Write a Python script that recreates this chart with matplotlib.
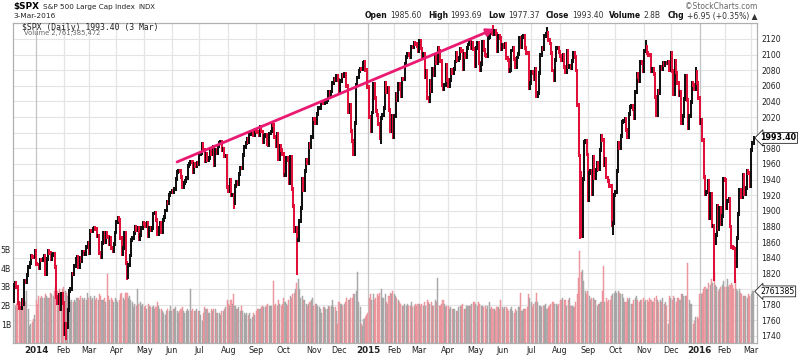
import numpy as np
import pandas as pd
import matplotlib
matplotlib.use("Agg")
import matplotlib.pyplot as plt
from matplotlib.transforms import blended_transform_factory

# S&P 500 daily closes, Dec 6 2013 .. Mar 3 2016 (one line per month)
close_before = 1785.03
closes_2013 = [1805.09, 1808.37, 1802.62, 1782.22, 1775.50, 1775.32, 1786.54, 1781.00, 1810.65,
               1809.60, 1818.32, 1827.99, 1833.32, 1842.02, 1841.40, 1841.07, 1848.36]
closes_2014 = [
    1831.98, 1831.37, 1826.77, 1837.88, 1837.49, 1838.13, 1842.37, 1819.20, 1838.88, 1848.38, 1845.89, 1838.70, 1843.80, 1844.86, 1828.46, 1790.29, 1781.56, 1792.50, 1774.20, 1794.19, 1782.59,
    1741.89, 1755.20, 1751.64, 1773.43, 1797.02, 1799.84, 1819.75, 1819.26, 1829.83, 1838.63, 1840.76, 1828.75, 1839.78, 1836.25, 1847.61, 1845.12, 1845.16, 1854.29, 1859.45,
    1845.73, 1873.91, 1873.81, 1877.03, 1878.04, 1877.17, 1867.63, 1868.20, 1846.34, 1841.13, 1858.83, 1872.25, 1860.77, 1872.01, 1866.52, 1857.44, 1865.62, 1852.56, 1849.04, 1857.62, 1872.34,
    1885.52, 1890.90, 1888.77, 1865.09, 1845.04, 1851.96, 1872.18, 1833.08, 1815.69, 1830.61, 1842.98, 1862.31, 1864.85, 1871.89, 1879.55, 1875.39, 1878.61, 1863.40, 1869.43, 1878.33, 1883.95,
    1883.68, 1881.14, 1884.66, 1867.72, 1878.21, 1875.63, 1878.48, 1896.65, 1897.45, 1888.53, 1870.85, 1877.86, 1885.08, 1872.83, 1888.03, 1892.49, 1900.53, 1911.91, 1909.78, 1920.03, 1923.57,
    1924.97, 1924.24, 1927.88, 1940.46, 1949.44, 1951.27, 1950.79, 1943.89, 1930.11, 1936.16, 1937.78, 1941.99, 1956.98, 1959.48, 1962.87, 1962.61, 1949.98, 1959.53, 1957.22, 1960.96, 1960.23,
    1973.32, 1974.62, 1985.44, 1977.65, 1963.71, 1972.83, 1964.68, 1967.57, 1977.10, 1973.28, 1981.57, 1958.12, 1978.22, 1973.63, 1983.53, 1987.01, 1987.98, 1978.34, 1978.91, 1969.95, 1970.07, 1930.67,
    1925.15, 1938.99, 1920.21, 1920.24, 1909.57, 1931.59, 1936.92, 1933.75, 1946.72, 1955.18, 1955.06, 1971.74, 1981.60, 1986.51, 1992.37, 1988.40, 1997.92, 2000.02, 2000.12, 1996.74, 2003.37,
    2002.28, 2000.72, 1997.65, 2007.71, 2001.54, 1988.44, 1995.69, 1997.45, 1985.54, 1984.13, 1998.98, 2001.57, 2011.36, 2010.40, 1994.29, 1982.77, 1998.30, 1965.99, 1982.85, 1977.80, 1972.29,
    1946.16, 1946.17, 1967.90, 1964.82, 1935.10, 1968.89, 1928.21, 1906.13, 1874.74, 1877.70, 1862.49, 1862.76, 1886.76, 1904.01, 1941.28, 1927.11, 1950.82, 1964.58, 1961.63, 1985.05, 1982.30, 1994.65, 2018.05,
    2017.81, 2012.10, 2023.57, 2031.21, 2031.92, 2038.26, 2039.68, 2038.25, 2039.33, 2039.82, 2041.32, 2051.80, 2048.72, 2052.75, 2063.50, 2069.41, 2067.03, 2072.83, 2067.56,
    2053.44, 2066.55, 2074.33, 2071.92, 2075.37, 2060.31, 2059.82, 2026.14, 2035.33, 2002.33, 1989.63, 1972.74, 2012.89, 2061.23, 2070.65, 2078.54, 2082.17, 2081.88, 2088.77, 2090.57, 2080.35, 2058.90]
closes_2015 = [
    2058.20, 2020.58, 2002.61, 2025.90, 2062.14, 2044.81, 2028.26, 2023.03, 2011.27, 1992.67, 2019.42, 2022.55, 2032.12, 2063.15, 2051.82, 2057.09, 2029.55, 2002.16, 2021.25, 1994.99,
    2020.85, 2050.03, 2041.51, 2062.52, 2055.47, 2046.74, 2068.59, 2068.53, 2088.48, 2096.99, 2100.34, 2099.68, 2097.45, 2110.30, 2109.66, 2115.48, 2113.86, 2110.74, 2104.50,
    2117.39, 2107.78, 2098.53, 2101.04, 2071.26, 2079.43, 2044.16, 2040.24, 2065.95, 2053.40, 2081.19, 2074.28, 2099.50, 2089.27, 2108.10, 2104.42, 2091.50, 2061.05, 2056.15, 2061.02, 2086.24, 2067.89,
    2059.69, 2066.96, 2080.62, 2076.33, 2081.90, 2091.18, 2102.06, 2092.43, 2095.84, 2106.63, 2104.99, 2081.18, 2100.40, 2097.29, 2107.96, 2112.93, 2117.69, 2108.92, 2114.76, 2106.85, 2085.51,
    2108.29, 2114.49, 2089.46, 2080.15, 2088.00, 2116.10, 2105.33, 2099.12, 2098.48, 2121.10, 2122.73, 2129.20, 2127.83, 2125.85, 2130.82, 2126.06, 2104.20, 2123.48, 2120.79, 2107.39,
    2111.73, 2109.60, 2114.07, 2095.84, 2092.83, 2079.28, 2080.15, 2105.20, 2108.86, 2094.11, 2084.43, 2096.29, 2100.44, 2121.24, 2109.99, 2122.85, 2124.20, 2108.58, 2102.31, 2101.49, 2057.64, 2063.11,
    2077.42, 2076.78, 2068.76, 2081.34, 2046.68, 2051.31, 2076.62, 2099.60, 2108.95, 2107.40, 2124.29, 2126.64, 2128.28, 2119.21, 2114.15, 2102.15, 2079.65, 2067.64, 2093.25, 2108.57, 2108.63, 2103.84,
    2098.04, 2093.32, 2099.84, 2083.56, 2077.57, 2104.18, 2084.07, 2086.05, 2083.39, 2091.54, 2102.44, 2096.92, 2079.61, 2035.73, 1970.89, 1893.21, 1867.61, 1940.51, 1987.66, 1988.87, 1972.18,
    1913.85, 1948.86, 1951.13, 1921.22, 1969.41, 1942.04, 1952.29, 1961.05, 1953.03, 1978.09, 1995.31, 1990.20, 1958.03, 1966.97, 1942.74, 1938.76, 1932.24, 1931.34, 1881.77, 1884.09, 1920.03,
    1923.82, 1951.36, 1987.05, 1979.92, 1995.83, 2013.43, 2014.89, 2017.46, 2003.69, 1994.24, 2023.86, 2033.11, 2033.66, 2030.77, 2018.94, 2052.51, 2075.15, 2071.18, 2065.89, 2090.35, 2089.41, 2079.36,
    2104.05, 2109.79, 2102.31, 2099.93, 2099.20, 2078.58, 2081.72, 2075.00, 2045.97, 2023.04, 2053.19, 2050.44, 2083.58, 2081.24, 2089.17, 2086.59, 2089.14, 2088.87, 2090.11, 2080.41,
    2102.63, 2079.51, 2049.62, 2091.69, 2077.07, 2063.59, 2047.62, 2052.23, 2012.37, 2021.94, 2043.41, 2073.07, 2041.89, 2005.55, 2021.15, 2038.97, 2064.29, 2060.99, 2056.50, 2078.36, 2063.36, 2043.94]
closes_2016 = [
    2012.66, 2016.71, 1990.26, 1943.09, 1922.03, 1923.67, 1938.68, 1890.28, 1921.84, 1880.33, 1881.33, 1859.33, 1868.99, 1906.90, 1877.08, 1903.63, 1882.95, 1893.36, 1940.24,
    1939.38, 1903.03, 1912.53, 1915.45, 1880.05, 1853.44, 1852.21, 1851.86, 1829.08, 1864.78, 1895.58, 1926.82, 1917.83, 1917.78, 1945.50, 1921.27, 1929.80, 1951.70, 1948.05, 1932.23,
    1978.35, 1986.45, 1993.40]

# intraday extremes on the days with long wicks
low_dates = ["2014-02-05", "2014-04-11", "2014-08-07", "2014-10-15", "2014-12-16", "2015-01-16",
             "2015-08-24", "2015-09-29", "2016-01-20", "2016-02-11"]
low_values = [1737.92, 1814.36, 1904.78, 1820.66, 1972.56, 1988.12, 1867.01, 1871.91, 1812.29, 1810.10]
high_dates = ["2015-05-20", "2015-07-20", "2015-08-25", "2015-11-03", "2015-12-29"]
high_values = [2134.72, 2132.82, 1948.04, 2116.48, 2081.56]

# volume in billions
vol_2013 = [2.1, 2.0, 2.1, 2.2, 2.1, 2.2, 2.0, 2.1, 2.3, 2.2, 2.8, 1.8, 0.9, 1.0, 1.1, 1.3, 1.5]
vol_2014 = [
    2.3, 2.1, 2.5, 2.4, 2.5, 2.4, 2.4, 2.6, 2.5, 2.4, 2.4, 2.7, 2.6, 2.5, 2.8, 3.0, 2.8, 2.5, 2.9, 2.6, 2.9,
    3.0, 2.8, 2.7, 2.5, 2.4, 2.2, 2.3, 2.2, 2.3, 2.2, 2.4, 2.4, 2.3, 2.5, 2.4, 2.3, 2.4, 2.3, 2.7,
    2.4, 2.5, 2.3, 2.4, 2.5, 2.3, 2.4, 2.3, 2.6, 2.5, 2.3, 2.3, 2.4, 2.2, 3.7, 2.5, 2.3, 2.4, 2.3, 2.2, 2.4,
    2.3, 2.2, 2.3, 2.6, 2.7, 2.4, 2.3, 2.7, 2.7, 2.4, 2.5, 2.3, 2.2, 1.9, 2.1, 2.0, 2.9, 2.1, 2.2, 2.0, 2.1,
    1.9, 2.0, 1.8, 2.1, 2.0, 1.9, 1.9, 2.0, 1.8, 1.9, 2.2, 2.0, 1.8, 1.8, 1.7, 1.6, 1.5, 1.7, 1.8, 1.7, 2.0,
    1.7, 1.8, 1.8, 1.9, 1.7, 1.6, 1.7, 1.8, 1.9, 1.7, 1.6, 1.7, 1.8, 1.7, 2.9, 1.7, 1.8, 1.7, 1.7, 1.8, 1.7,
    1.7, 1.5, 1.2, 1.6, 1.9, 1.8, 1.8, 1.6, 1.6, 1.8, 1.7, 1.8, 1.8, 1.6, 1.6, 1.6, 1.5, 1.7, 1.7, 1.8, 1.9, 2.3,
    2.1, 2.0, 2.3, 2.1, 2.6, 2.0, 1.8, 1.8, 1.9, 1.7, 2.0, 1.7, 1.6, 1.5, 1.6, 1.5, 1.6, 1.3, 1.4, 1.6, 1.5,
    1.7, 1.8, 1.8, 1.8, 1.9, 2.0, 1.9, 1.9, 2.0, 2.1, 2.0, 2.0, 2.0, 3.3, 2.0, 2.1, 2.0, 2.3, 2.1, 2.0, 2.1,
    2.4, 2.2, 2.1, 2.0, 2.3, 2.5, 2.4, 2.6, 2.7, 2.9, 3.2, 3.4, 2.9, 2.4, 2.5, 2.3, 2.3, 2.1, 2.0, 2.1, 2.2, 2.3, 2.4,
    2.0, 2.1, 2.1, 2.0, 1.9, 1.8, 1.6, 1.9, 1.9, 1.8, 1.8, 2.0, 1.9, 2.0, 2.3, 1.9, 1.9, 1.7, 1.0,
    2.2, 2.1, 2.1, 2.0, 2.1, 2.2, 2.4, 2.3, 2.3, 2.4, 2.4, 2.6, 2.6, 2.8, 3.8, 2.2, 1.9, 1.0, 0.9, 1.3, 1.4, 1.5]
vol_2015 = [
    1.6, 2.4, 2.6, 2.3, 2.6, 2.3, 2.4, 2.6, 2.5, 2.7, 2.9, 2.4, 2.4, 2.6, 2.2, 2.1, 2.5, 2.7, 2.6, 2.8,
    2.6, 2.5, 2.4, 2.3, 2.2, 2.1, 2.0, 2.0, 2.1, 2.0, 2.1, 2.0, 2.0, 2.2, 1.9, 2.0, 2.1, 2.0, 2.1,
    2.1, 2.0, 2.1, 2.0, 2.2, 2.0, 2.3, 2.2, 2.1, 2.2, 2.0, 2.0, 2.3, 2.2, 3.5, 2.0, 2.0, 2.1, 2.3, 2.1, 1.9, 2.0,
    2.0, 1.8, 1.9, 1.8, 1.8, 1.8, 1.7, 1.7, 1.9, 2.0, 2.0, 2.1, 1.8, 1.8, 2.0, 2.0, 2.0, 2.0, 2.1, 2.2, 2.2,
    2.1, 2.0, 2.2, 2.1, 2.0, 2.0, 1.9, 2.0, 1.8, 2.0, 2.2, 1.8, 1.9, 1.8, 1.8, 1.7, 1.9, 1.9, 1.8, 2.3,
    1.9, 1.8, 1.9, 1.9, 1.8, 1.7, 1.8, 1.9, 1.7, 1.6, 1.8, 1.7, 1.9, 1.9, 2.7, 1.7, 1.8, 1.8, 1.8, 1.9, 2.6, 2.4,
    2.2, 1.9, 2.1, 2.2, 2.7, 2.2, 2.0, 2.0, 1.9, 2.0, 2.0, 2.1, 1.8, 1.9, 2.0, 2.1, 2.2, 2.2, 2.1, 2.1, 2.0, 2.1,
    2.3, 2.3, 2.4, 2.3, 2.3, 2.0, 2.3, 2.4, 2.0, 2.0, 1.9, 1.9, 2.2, 2.6, 3.5, 4.9, 3.8, 3.9, 3.3, 2.8, 2.6,
    2.8, 2.5, 2.3, 2.4, 2.4, 2.3, 2.3, 2.0, 2.1, 2.1, 2.2, 2.8, 4.1, 2.2, 2.4, 2.2, 2.3, 2.3, 2.5, 2.6, 2.7,
    2.8, 2.7, 2.8, 2.7, 2.6, 2.6, 2.4, 2.2, 2.2, 2.4, 2.3, 2.4, 2.1, 2.1, 2.3, 2.4, 2.5, 2.3, 2.2, 2.3, 2.3, 2.4,
    2.2, 2.3, 2.3, 2.2, 2.4, 2.3, 2.2, 2.2, 2.4, 2.5, 2.3, 2.2, 2.3, 2.2, 2.4, 2.1, 2.2, 2.0, 1.0, 2.5,
    2.4, 2.3, 2.5, 2.4, 2.2, 2.4, 2.4, 2.3, 2.6, 2.6, 2.5, 2.5, 2.5, 4.3, 2.3, 2.1, 2.1, 1.0, 1.2, 1.4, 1.4, 1.3]
vol_2016 = [
    2.6, 2.6, 2.7, 2.9, 3.0, 2.9, 2.9, 3.2, 3.1, 3.4, 3.2, 3.8, 3.1, 3.0, 2.8, 2.9, 3.0, 3.1, 3.3,
    3.0, 3.0, 3.4, 3.0, 3.1, 3.2, 3.1, 2.9, 3.4, 2.9, 2.8, 2.9, 2.7, 2.6, 2.5, 2.5, 2.5, 2.4, 2.6, 2.5,
    2.6, 2.8, 2.761385472]

holidays = ["2013-12-25", "2014-01-01", "2014-01-20", "2014-02-17", "2014-04-18", "2014-05-26",
            "2014-07-04", "2014-09-01", "2014-11-27", "2014-12-25", "2015-01-01", "2015-01-19",
            "2015-02-16", "2015-04-03", "2015-05-25", "2015-07-03", "2015-09-07", "2015-11-26",
            "2015-12-25", "2016-01-01", "2016-01-18", "2016-02-15"]

arrow_from = ("2014-06-06", 1962.6)
arrow_to = ("2015-05-21", 2132.8)

header = [("Open", "1985.60"), ("High", "1993.69"), ("Low", "1977.37"), ("Close", "1993.40"),
          ("Volume", "2.8B"), ("Chg", "+6.95 (+0.35%) \u25b2")]

# trading calendar
days = pd.bdate_range("2013-12-06", "2016-03-03")
days = days[~days.isin(pd.to_datetime(holidays))]
closes = np.array(closes_2013 + closes_2014 + closes_2015 + closes_2016)
vols = np.array(vol_2013 + vol_2014 + vol_2015 + vol_2016) * 1e9
assert len(closes) == len(days) == len(vols), (len(closes), len(days), len(vols))
x = np.arange(len(days))

prev = np.concatenate([[close_before], closes[:-1]])
up = closes >= prev
lo = np.minimum(prev, closes)
hi = np.maximum(prev, closes)
for d, v in zip(low_dates, low_values):
    i = days.get_loc(pd.Timestamp(d))
    lo[i] = min(lo[i], v)
for d, v in zip(high_dates, high_values):
    i = days.get_loc(pd.Timestamp(d))
    hi[i] = max(hi[i], v)

W, H = 800, 355
fig = plt.figure(figsize=(W / 100, H / 100), dpi=100)
renderer = fig.canvas.get_renderer()
L, R, T, B = 13, 757, 23.3, 343
axv = fig.add_axes([L / W, 1 - B / H, (R - L) / W, (B - T) / H])
ax = axv.twinx()

pmin, pmax = 1731, 2140
vmax = 17.1e9
axv.set_xlim(-0.6, len(days) + 1.5)
axv.set_ylim(0, vmax)
ax.set_ylim(pmin, pmax)

# grid lives in the volume axes so the bars sit on top of it
levels = np.arange(1740, 2141, 20)
months = pd.Series(days.to_period("M"))
mstart = np.where(months != months.shift())[0][1:]
gtrans = blended_transform_factory(axv.transAxes, ax.transData)
axv.hlines(levels, 0, 1, transform=gtrans, color="#e4e4e4", lw=0.8, zorder=0)
for i in mstart:
    c = "#c4c4c4" if days[i].month == 1 else "#e4e4e4"
    axv.axvline(i, color=c, lw=0.9, zorder=0)

# volume bars
vcol = np.where(up, "#b2b2b2", "#f2a6ac")
vedge = np.where(up, "#9c9c9c", "#e6848e")
axv.bar(x, vols, width=0.8, color=vcol, edgecolor=vedge, lw=0.3, zorder=2)

# price bars, black up / red down
pcol = np.where(up, "#111111", "#e0103a")
ax.vlines(x, lo - 2.5, hi + 2.5, colors=pcol, lw=1.45, zorder=3)

ax.annotate("", xy=(days.get_loc(pd.Timestamp(arrow_to[0])), arrow_to[1]),
            xytext=(days.get_loc(pd.Timestamp(arrow_from[0])), arrow_from[1]),
            arrowprops=dict(arrowstyle="-|>", color="#ea1a72", lw=2.0, mutation_scale=11,
                            shrinkA=0, shrinkB=0), zorder=5)

# axes styling
for a in (ax, axv):
    for s in a.spines.values():
        s.set_color("#b0b0b0")
        s.set_linewidth(0.8)
ax.set_yticks(levels[:-1])
# 1800 and 2000 sit under the last-value tags
ax.set_yticklabels(["" if v in (1800, 2000) else str(v) for v in levels[:-1]])
ax.tick_params(axis="y", length=0, pad=3, labelsize=5.6, labelcolor="#222222")
axv.set_yticks(np.arange(1, 6) * 1e9)
axv.set_yticklabels(["%dB" % v for v in range(1, 6)])
axv.tick_params(axis="y", length=0, pad=1.5, labelsize=5.6, labelcolor="#222222")
axv.set_xticks(mstart)
axv.set_xticklabels([str(days[i].year) if days[i].month == 1 else days[i].strftime("%b") for i in mstart])
axv.tick_params(axis="x", length=0, pad=2, labelsize=5.8, labelcolor="#222222")
for lab, i in zip(axv.get_xticklabels(), mstart):
    if days[i].month == 1:
        lab.set_fontweight("bold")
        lab.set_fontsize(6.3)

# last value tags on the right axis
ax.annotate("%.2f" % closes[-1], xy=(1.0, closes[-1]), xycoords=("axes fraction", "data"),
            xytext=(2.5, 0), textcoords="offset points", ha="left", va="center",
            fontsize=5.8, fontweight="bold", zorder=10, annotation_clip=False,
            bbox=dict(boxstyle="larrow,pad=0.12", fc="white", ec="#222222", lw=0.6))
ax.annotate("%d" % round(vols[-1] / 1000), xy=(1.0, vols[-1] / vmax), xycoords="axes fraction",
            xytext=(2.5, 0), textcoords="offset points", ha="left", va="center",
            fontsize=5.6, zorder=10, annotation_clip=False,
            bbox=dict(boxstyle="larrow,pad=0.12", fc="white", ec="#222222", lw=0.6))


def fit(t, width_px):
    # scale a text so it spans the given width in pixels
    w = t.get_window_extent(renderer).width
    t.set_fontsize(t.get_fontsize() * width_px / w)
    return t


def px(xp, yp):
    return xp / W, 1 - yp / H


# legend text inside the plot
fit(fig.text(*px(22, 27), "$SPX (Daily) %.2f (3 Mar)" % closes[-1], family="DejaVu Sans Mono",
             fontsize=6, va="center", ha="left", color="#222222"), 136)
fit(fig.text(*px(24, 33.5), "Volume {:,}".format(int(round(vols[-1]))), fontsize=5.5,
             va="center", ha="left", color="#666666"), 76)

# titles
fit(fig.text(*px(L, 6.5), "$SPX", fontsize=7, fontweight="bold", va="center", ha="left"), 26)
fit(fig.text(*px(43, 6.5), "S&P 500 Large Cap Index", fontsize=5.5, va="center", ha="left",
             color="#222222"), 92)
fit(fig.text(*px(138, 7), "INDX", fontsize=5, va="center", ha="left", color="#222222"), 17)
fit(fig.text(*px(L, 16), "3-Mar-2016", fontsize=5.8, va="center", ha="left", color="#222222"), 42)
fit(fig.text(*px(R, 6.5), "\u00a9StockCharts.com", fontsize=5.6, va="center", ha="right",
             color="#666666"), 73)

# quote line: measure pieces, scale to the reference span, then lay out left to right
pieces = []
for lab, val in header:
    pieces.append(fig.text(0, 0, lab, fontsize=6, fontweight="bold", color="#111111",
                           va="baseline", ha="left"))
    pieces.append(fig.text(0, 0, val, fontsize=6, color="#333333", va="baseline", ha="left"))
gap_in, gap_out = 3.0, 7.0
widths = [p.get_window_extent(renderer).width for p in pieces]
total = sum(widths) + gap_in * len(header) + gap_out * (len(header) - 1)
scale = (R - 365) / total
xpos = 365.0
for k, p in enumerate(pieces):
    p.set_fontsize(6 * scale)
    p.set_position(px(xpos, 18.5))
    xpos += widths[k] * scale + (gap_in if k % 2 == 0 else gap_out) * scale

fig.savefig("out.png", dpi=100)
